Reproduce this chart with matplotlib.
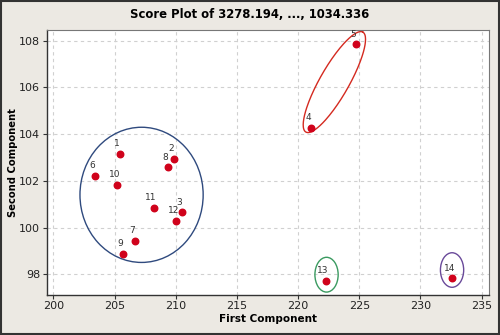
import numpy as np
import matplotlib.pyplot as plt
from matplotlib.patches import Ellipse, Rectangle

# ---------- DATA ----------
labels = ["1", "2", "3", "4", "5", "6", "7", "8", "9", "10", "11", "12", "13", "14"]
first_comp = [205.41, 209.87, 210.50, 221.09, 224.71, 203.42, 206.66,
              209.33, 205.68, 205.21, 208.19, 210.03, 222.26, 232.58]
second_comp = [103.16, 102.95, 100.65, 104.27, 107.85, 102.21, 99.43,
               102.59, 98.87, 101.82, 100.85, 100.28, 97.71, 97.82]

# group outlines: centre, width, height (data units)
groups = {
    "main": dict(center=(207.2, 101.4), w=10.07, h=5.79, color="#2f4a7e"),
    "13": dict(center=(222.32, 97.98), w=1.90, h=1.49, color="#3a9a60"),
    "14": dict(center=(232.58, 98.18), w=1.90, h=1.48, color="#6a4a9a"),
}
# tilted outline round 4 and 5: centre plus two semi-axis vectors
tilt_center = (222.96, 106.23)
tilt_major = (2.33, 2.14)
tilt_minor = (1.03, -0.31)

xticks = [200, 205, 210, 215, 220, 225, 230, 235]
yticks = [98, 100, 102, 104, 106, 108]

# ---------- PLOT ----------
bg = "#ece9e3"
fig = plt.figure(figsize=(5, 3.35), dpi=100, facecolor=bg)
ax = fig.add_axes([0.094, 0.1194, 0.884, 0.791])
ax.set_facecolor("white")

ax.scatter(first_comp, second_comp, s=22, color="#d0021b", zorder=3)
for lab, x, y in zip(labels, first_comp, second_comp):
    ax.annotate(lab, (x, y), xytext=(-2, 4), textcoords="offset points",
                fontsize=6.5, color="#333333", ha="center", va="bottom")

for g in groups.values():
    ax.add_patch(Ellipse(g["center"], g["w"], g["h"], fill=False,
                         edgecolor=g["color"], lw=1.0, zorder=2))

t = np.linspace(0, 2 * np.pi, 200)
ex = tilt_center[0] + tilt_major[0] * np.cos(t) + tilt_minor[0] * np.sin(t)
ey = tilt_center[1] + tilt_major[1] * np.cos(t) + tilt_minor[1] * np.sin(t)
ax.plot(ex, ey, color="#d42a20", lw=1.0, zorder=2)

ax.set_xlim(199.47, 235.6)
ax.set_ylim(97.11, 108.46)
ax.set_xticks(xticks)
ax.set_yticks(yticks)
ax.tick_params(labelsize=8, length=3, color="#333333", labelcolor="#222222")
ax.tick_params(axis="x", pad=1.5)
ax.tick_params(axis="y", pad=2)
ax.grid(True, ls=(0, (3, 3)), color="#d0d0d0", lw=0.8)
ax.set_axisbelow(True)
for side in ["left", "bottom"]:
    ax.spines[side].set_color("#333333")
    ax.spines[side].set_linewidth(1.0)
for side in ["top", "right"]:
    ax.spines[side].set_color("#777777")
    ax.spines[side].set_linewidth(0.8)

ax.set_xlabel("First Component", fontsize=7.5, fontweight="bold")
ax.set_ylabel("Second Component", fontsize=7.2, fontweight="bold")
ax.xaxis.set_label_coords(0.5, -0.07)
ax.yaxis.set_label_coords(-0.066, 0.5)
fig.text(0.5, 0.958, "Score Plot of 3278.194, ..., 1034.336",
         ha="center", va="center", fontsize=8.4, fontweight="bold")

fig.patches.append(Rectangle((0.002, 0.003), 0.996, 0.994, transform=fig.transFigure,
                             fill=False, edgecolor="#333333", lw=1.5))

fig.savefig("out.png", dpi=100, facecolor=bg)
